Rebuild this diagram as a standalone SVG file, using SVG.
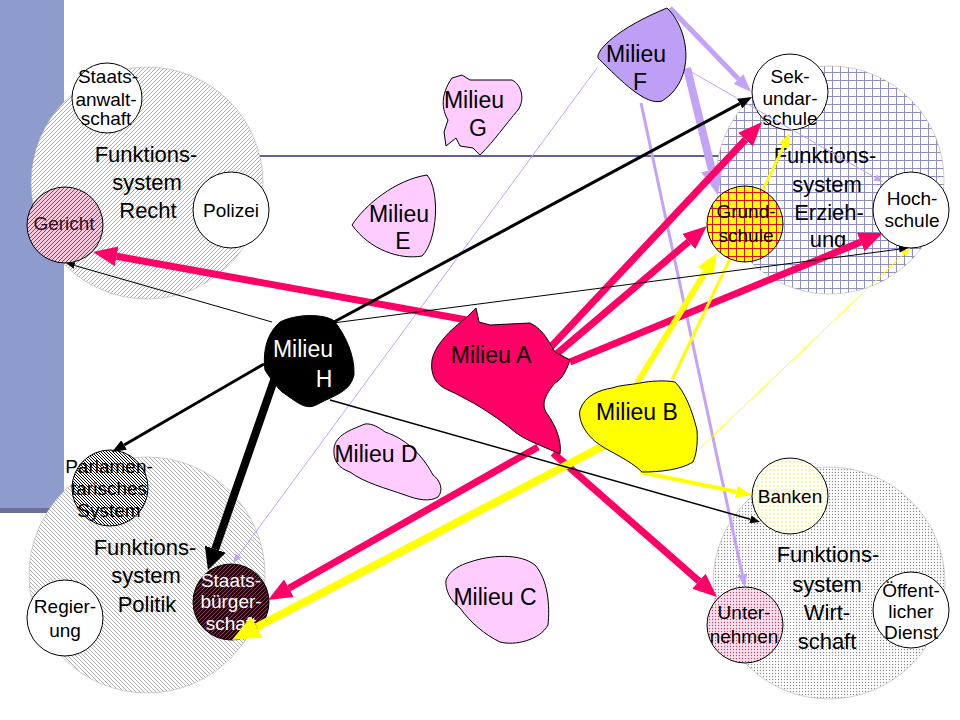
<svg xmlns="http://www.w3.org/2000/svg" width="960" height="720" viewBox="0 0 960 720">
<style>
text{font-family:"Liberation Sans",Arial,sans-serif;fill:#000;text-anchor:middle}
.big{font-size:22px}
.sm{font-size:19px}
.mil{font-size:23px}
.node{stroke:#000;stroke-width:1}
.sys{stroke:#b0b0b0;stroke-width:0.6}
.milieu{stroke:#000;stroke-width:1}
.k{stroke:#000;fill:none}
.r{stroke:#ff0066;fill:none}
.y{stroke:#ffff00;fill:none}
.p{stroke:#c3a3f7;fill:none}
</style>
<defs>
<pattern id="hatchR" width="4" height="4" patternUnits="userSpaceOnUse"><rect width="4" height="4" fill="#fff"/><path d="M-1,1 L1,-1 M0,4 L4,0 M3,5 L5,3" stroke="#9a9a9a" stroke-width="0.8"/></pattern>
<pattern id="hatchP" width="4" height="4" patternUnits="userSpaceOnUse"><rect width="4" height="4" fill="#fff"/><path d="M-1,3 L1,5 M0,0 L4,4 M3,-1 L5,1" stroke="#9a9a9a" stroke-width="0.8"/></pattern>
<pattern id="hatchG" width="4" height="4" patternUnits="userSpaceOnUse"><rect width="4" height="4" fill="#f7c8dc"/><path d="M-1,1 L1,-1 M0,4 L4,0 M3,5 L5,3" stroke="#b02058" stroke-width="0.9"/></pattern>
<pattern id="hatchPa" width="3" height="3" patternUnits="userSpaceOnUse"><rect width="3" height="3" fill="#fff"/><path d="M-1,2 L1,4 M0,0 L3,3 M2,-1 L4,1" stroke="#000" stroke-width="1"/></pattern>
<pattern id="hatchS" width="4" height="4" patternUnits="userSpaceOnUse"><rect width="4" height="4" fill="#300010"/><path d="M-1,1 L1,-1 M0,4 L4,0 M3,5 L5,3" stroke="#c03050" stroke-width="0.9"/></pattern>
<pattern id="gridE" width="8" height="8" patternUnits="userSpaceOnUse"><rect width="8" height="8" fill="#fff"/><path d="M0,0.5 H8 M0.5,0 V8" stroke="#9090c0" stroke-width="1"/></pattern>
<pattern id="gridY" width="8" height="8" patternUnits="userSpaceOnUse"><rect width="8" height="8" fill="#ffff00"/><path d="M0,0.5 H8 M0.5,0 V8" stroke="#e01010" stroke-width="1"/></pattern>
<pattern id="dotW" width="3" height="3" patternUnits="userSpaceOnUse"><rect width="3" height="3" fill="#fff"/><circle cx="1.5" cy="1.5" r="0.7" fill="#8a8a8a"/></pattern>
<pattern id="dotB" width="4" height="4" patternUnits="userSpaceOnUse"><rect width="4" height="4" fill="#ffffee"/><circle cx="2" cy="2" r="0.7" fill="#e6de80"/></pattern>
<pattern id="dotU" width="3" height="3" patternUnits="userSpaceOnUse"><rect width="3" height="3" fill="#fbe2ee"/><circle cx="1.5" cy="1.5" r="0.7" fill="#c04070"/></pattern>
<marker id="k9" markerUnits="userSpaceOnUse" markerWidth="9" markerHeight="7" viewBox="0 0 9 7" refX="0" refY="3.5" orient="auto"><path d="M0,0 L9,3.5 L0,7 Z" fill="#000"/></marker>
<marker id="k10" markerUnits="userSpaceOnUse" markerWidth="10" markerHeight="8" viewBox="0 0 10 8" refX="0" refY="4" orient="auto"><path d="M0,0 L10,4 L0,8 Z" fill="#000"/></marker>
<marker id="k14" markerUnits="userSpaceOnUse" markerWidth="14" markerHeight="11" viewBox="0 0 14 11" refX="0" refY="5.5" orient="auto"><path d="M0,0 L14,5.5 L0,11 Z" fill="#000"/></marker>
<marker id="k22" markerUnits="userSpaceOnUse" markerWidth="22" markerHeight="22" viewBox="0 0 22 22" refX="0" refY="11" orient="auto"><path d="M0,0 L22,11 L0,22 Z" fill="#000"/></marker>
<marker id="r24" markerUnits="userSpaceOnUse" markerWidth="24" markerHeight="20" viewBox="0 0 24 20" refX="0" refY="10" orient="auto"><path d="M0,0 L24,10 L0,20 Z" fill="#ff0066"/></marker>
<marker id="y9" markerUnits="userSpaceOnUse" markerWidth="9" markerHeight="7" viewBox="0 0 9 7" refX="0" refY="3.5" orient="auto"><path d="M0,0 L9,3.5 L0,7 Z" fill="#ffff00"/></marker>
<marker id="y14" markerUnits="userSpaceOnUse" markerWidth="14" markerHeight="11" viewBox="0 0 14 11" refX="0" refY="5.5" orient="auto"><path d="M0,0 L14,5.5 L0,11 Z" fill="#ffff00"/></marker>
<marker id="y16" markerUnits="userSpaceOnUse" markerWidth="16" markerHeight="12" viewBox="0 0 16 12" refX="0" refY="6" orient="auto"><path d="M0,0 L16,6 L0,12 Z" fill="#ffff00"/></marker>
<marker id="y22" markerUnits="userSpaceOnUse" markerWidth="22" markerHeight="18" viewBox="0 0 22 18" refX="0" refY="9" orient="auto"><path d="M0,0 L22,9 L0,18 Z" fill="#ffff00"/></marker>
<marker id="y28" markerUnits="userSpaceOnUse" markerWidth="28" markerHeight="24" viewBox="0 0 28 24" refX="0" refY="12" orient="auto"><path d="M0,0 L28,12 L0,24 Z" fill="#ffff00"/></marker>
<marker id="p9" markerUnits="userSpaceOnUse" markerWidth="9" markerHeight="7" viewBox="0 0 9 7" refX="0" refY="3.5" orient="auto"><path d="M0,0 L9,3.5 L0,7 Z" fill="#c3a3f7"/></marker>
<marker id="p13" markerUnits="userSpaceOnUse" markerWidth="13" markerHeight="10" viewBox="0 0 13 10" refX="0" refY="5" orient="auto"><path d="M0,0 L13,5 L0,10 Z" fill="#c3a3f7"/></marker>
<marker id="p18" markerUnits="userSpaceOnUse" markerWidth="18" markerHeight="14" viewBox="0 0 18 14" refX="0" refY="7" orient="auto"><path d="M0,0 L18,7 L0,14 Z" fill="#c3a3f7"/></marker>
<marker id="p26" markerUnits="userSpaceOnUse" markerWidth="26" markerHeight="22" viewBox="0 0 26 22" refX="0" refY="11" orient="auto"><path d="M0,0 L26,11 L0,22 Z" fill="#c3a3f7"/></marker>
</defs>
<rect width="960" height="720" fill="#fff"/>
<g id="background">
<rect x="0" y="0" width="64" height="508" fill="#8e9bcd"/>
<rect x="0" y="508" width="64" height="5" fill="#6b6f9e"/>
<line x1="250" y1="156" x2="725" y2="156" stroke="#60609f" stroke-width="2"/>
</g>
<g id="recht">
<circle class="sys" cx="147" cy="183" r="116" fill="url(#hatchR)"/>
<text class="big" x="146" y="162">Funktions-</text>
<text class="big" x="147" y="190">system</text>
<text class="big" x="148" y="218">Recht</text>
</g>
<g id="erziehung">
<circle class="sys" cx="830" cy="180" r="114" fill="url(#gridE)"/>
<text class="big" x="825" y="163">Funktions-</text>
<text class="big" x="827" y="192">system</text>
<text class="big" x="829" y="220">Erzieh-</text>
<text class="big" x="828" y="247">ung</text>
</g>
<g id="politik">
<circle class="sys" cx="147" cy="575" r="118" fill="url(#hatchP)"/>
<text class="big" x="145" y="555">Funktions-</text>
<text class="big" x="146" y="583">system</text>
<text class="big" x="147" y="612">Politik</text>
</g>
<g id="wirtschaft">
<circle class="sys" cx="829" cy="583" r="116" fill="url(#dotW)"/>
<text class="big" x="828" y="562">Funktions-</text>
<text class="big" x="827" y="592">system</text>
<text class="big" x="827" y="620">Wirt-</text>
<text class="big" x="827" y="649">schaft</text>
</g>
<g id="staatsanwaltschaft">
<circle class="node" cx="107" cy="98" r="35" fill="#fff"/>
<text class="sm" x="108" y="83">Staats-</text>
<text class="sm" x="106" y="106">anwalt-</text>
<text class="sm" x="106" y="125">schaft</text>
</g>
<g id="polizei">
<circle class="node" cx="231" cy="210" r="38" fill="#fff"/>
<text class="sm" x="231" y="217">Polizei</text>
</g>
<g id="gericht">
<circle class="node" cx="65" cy="225" r="38" fill="url(#hatchG)"/>
<text class="sm" x="64" y="230" style="fill:#3a0a1a">Gericht</text>
</g>
<g id="sekundarschule">
<circle class="node" cx="790" cy="92" r="38" fill="#fff"/>
<text class="sm" x="790" y="83">Sek-</text>
<text class="sm" x="790" y="105">undar-</text>
<text class="sm" x="790" y="125">schule</text>
</g>
<g id="hochschule">
<circle class="node" cx="911" cy="210" r="38" fill="#fff"/>
<text class="sm" x="912" y="205">Hoch-</text>
<text class="sm" x="912" y="227">schule</text>
</g>
<g id="parlamentarisches-system">
<circle class="node" cx="110" cy="488" r="38" fill="url(#hatchPa)"/>
<text class="sm" x="109" y="473">Parlamen-</text>
<text class="sm" x="109" y="495">tarisches</text>
<text class="sm" x="109" y="517">System</text>
</g>
<g id="regierung">
<circle class="node" cx="65" cy="618" r="38" fill="#fff"/>
<text class="sm" x="65" y="613">Regier-</text>
<text class="sm" x="65" y="637">ung</text>
</g>
<g id="staatsbuergerschaft">
<circle class="node" cx="231" cy="602" r="38" fill="url(#hatchS)"/>
<text class="sm" x="231" y="587" style="fill:#fff">Staats-</text>
<text class="sm" x="231" y="608" style="fill:#fff">bürger-</text>
<text class="sm" x="231" y="630" style="fill:#fff">schaft</text>
</g>
<g id="banken">
<circle class="node" cx="790" cy="496" r="38" fill="url(#dotB)"/>
<text class="sm" x="790" y="503">Banken</text>
</g>
<g id="unternehmen">
<circle class="node" cx="745" cy="625" r="38" fill="url(#dotU)"/>
<text class="sm" x="744" y="619">Unter-</text>
<text class="sm" x="744" y="643">nehmen</text>
</g>
<g id="oeffentlicher-dienst">
<circle class="node" cx="911" cy="610" r="38" fill="#fff"/>
<text class="sm" x="911" y="597">Öffent-</text>
<text class="sm" x="911" y="618">licher</text>
<text class="sm" x="911" y="639">Dienst</text>
</g>
<g id="connectors">
<line class="p" x1="670" y1="8" x2="738.5" y2="79" stroke-width="5" marker-end="url(#p18)"/>
<line class="p" x1="687" y1="68" x2="711.8" y2="169.7" stroke-width="8" marker-end="url(#p26)"/>
<line class="p" x1="688" y1="70" x2="875.2" y2="177.5" stroke-width="1" marker-end="url(#p9)"/>
<line class="p" x1="641" y1="103" x2="742.3" y2="574.3" stroke-width="3" marker-end="url(#p13)"/>
<line class="p" x1="597" y1="68" x2="238.3" y2="555.7" stroke-width="1" marker-end="url(#p9)"/>
<line class="r" x1="478" y1="322" x2="116.6" y2="256.3" stroke-width="7" marker-end="url(#r24)"/>
<line class="r" x1="548" y1="350" x2="745.6" y2="139.5" stroke-width="7" marker-end="url(#r24)"/>
<line class="r" x1="553" y1="357" x2="688.7" y2="241.6" stroke-width="7" marker-end="url(#r24)"/>
<line class="r" x1="570" y1="362" x2="860.8" y2="242.1" stroke-width="7" marker-end="url(#r24)"/>
<line class="r" x1="538" y1="447" x2="288.9" y2="588.2" stroke-width="7" marker-end="url(#r24)"/>
<line class="r" x1="553" y1="453" x2="699" y2="581.2" stroke-width="7" marker-end="url(#r24)"/>
<line class="y" x1="637" y1="383" x2="705.5" y2="271.7" stroke-width="6" marker-end="url(#y22)"/>
<line class="y" x1="672" y1="380" x2="784" y2="145.6" stroke-width="3" marker-end="url(#y14)"/>
<line class="y" x1="605" y1="445" x2="256.8" y2="627" stroke-width="8" marker-end="url(#y28)"/>
<line class="y" x1="640" y1="472" x2="736.3" y2="491.8" stroke-width="4" marker-end="url(#y16)"/>
<line class="y" x1="698" y1="450" x2="903.5" y2="254.2" stroke-width="1" marker-end="url(#y9)"/>
<line class="k" x1="332" y1="323" x2="739.7" y2="103.6" stroke-width="3" marker-end="url(#k14)"/>
<line class="k" x1="272" y1="322" x2="74.6" y2="265.5" stroke-width="1" marker-end="url(#k9)"/>
<line class="k" x1="264" y1="364" x2="124.1" y2="445" stroke-width="3" marker-end="url(#k14)"/>
<line class="k" x1="280" y1="363" x2="215.2" y2="549.2" stroke-width="8" marker-end="url(#k22)"/>
<line class="k" x1="330" y1="400" x2="750.4" y2="519.3" stroke-width="1.5" marker-end="url(#k10)"/>
<line class="k" x1="333" y1="323" x2="899.1" y2="249.2" stroke-width="1" marker-end="url(#k9)"/>
</g>
<g id="grundschule">
<circle class="node" cx="745" cy="224" r="38" fill="url(#gridY)"/>
<text class="sm" x="746" y="218">Grund-</text>
<text class="sm" x="746" y="242">schule</text>
</g>
<g id="milieu-f">
<path class="milieu" fill="#bf9ff5" d="M667,8 C690,30 696,80 662,101 C646,106 622,82 598,58 C596,50 618,28 667,8 Z"/>
<text class="mil" x="636" y="62">Milieu</text>
<text class="mil" x="640" y="90">F</text>
</g>
<g id="milieu-g">
<path class="milieu" fill="#ffccff" d="M452,78 L462,75 L470,80 L512,80 C522,85 525,100 518,110 C505,125 495,140 480,155 L473,148 L460,146 L456,138 L446,146 L444,132 L448,120 C442,110 440,95 452,78 Z"/>
<text class="mil" x="474" y="108">Milieu</text>
<text class="mil" x="478" y="136">G</text>
</g>
<g id="milieu-e">
<path class="milieu" fill="#ffccff" d="M427,175 C440,190 438,240 422,256 C400,260 370,250 352,225 C365,205 395,180 427,175 Z"/>
<text class="mil" x="399" y="222">Milieu</text>
<text class="mil" x="403" y="249">E</text>
</g>
<g id="milieu-h">
<path class="milieu" fill="#000" d="M280,322 C300,312 330,315 335,322 C345,335 355,355 354,375 C350,392 335,395 318,404 C305,412 295,400 282,392 C275,385 268,375 265,370 C263,355 265,335 280,322 Z"/>
<text class="mil" x="303" y="357" style="fill:#fff">Milieu</text>
<text class="mil" x="324" y="387" style="fill:#fff">H</text>
</g>
<g id="milieu-a">
<path class="milieu" fill="#ff0066" d="M466,318 L476,308 L479,322 L490,325 L530,323 C545,330 550,345 555,352 L570,360 C565,375 560,380 555,383 C545,395 540,405 548,415 C555,425 562,440 560,454 C540,445 525,440 515,432 C495,415 470,400 448,390 C436,385 430,375 432,360 C435,345 450,330 466,318 Z"/>
<text class="mil" x="491" y="363">Milieu A</text>
</g>
<g id="milieu-b">
<path class="milieu" fill="#ffff00" d="M640,383 C650,381 665,380 675,382 C685,392 692,410 697,430 C698,445 696,455 693,462 C680,470 660,472 642,472 C630,460 610,452 600,445 C585,435 578,420 580,410 C585,395 600,390 612,388 C620,385 630,385 640,383 Z"/>
<text class="mil" x="637" y="420">Milieu B</text>
</g>
<g id="milieu-d">
<path class="milieu" fill="#ffccff" d="M365,424 C372,423 380,428 385,432 C410,440 425,460 433,475 C440,480 444,490 438,497 C430,502 418,500 405,495 C385,488 365,483 350,472 C338,468 333,460 334,448 C336,435 350,430 365,424 Z"/>
<text class="mil" x="376" y="462">Milieu D</text>
</g>
<g id="milieu-c">
<path class="milieu" fill="#ffccff" d="M470,562 C490,555 520,553 535,565 C548,580 550,605 548,625 C540,640 515,646 500,642 C485,635 470,622 460,608 C450,600 445,590 446,580 C450,570 460,565 470,562 Z"/>
<text class="mil" x="495" y="605">Milieu C</text>
</g>
</svg>
